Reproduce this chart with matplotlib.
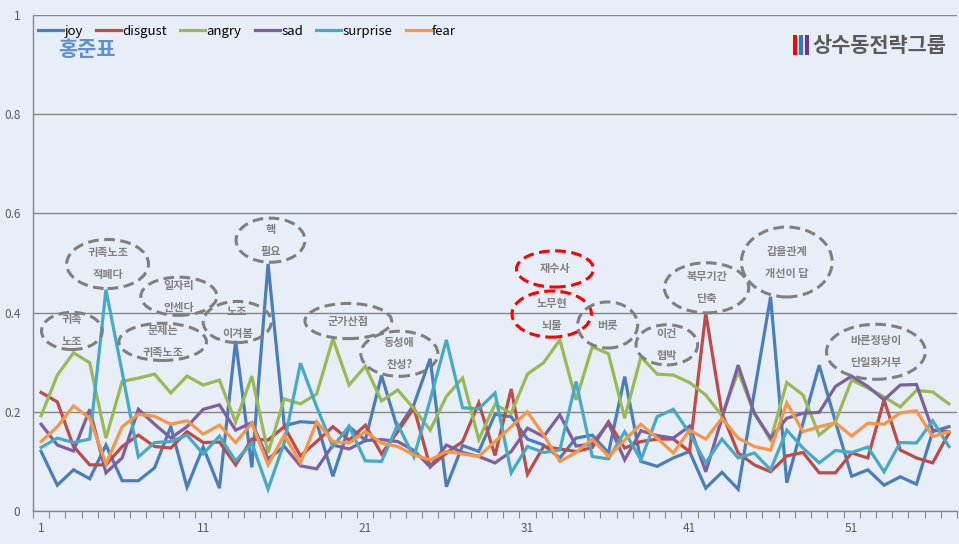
import matplotlib
matplotlib.use('Agg')
import matplotlib.pyplot as plt
from matplotlib.patches import Ellipse, Rectangle
import numpy as np

plt.rcParams['font.family'] = ['Noto Sans CJK KR', 'DejaVu Sans']

# values (57 points)
joy = [0.120, 0.052, 0.083, 0.065, 0.133, 0.061, 0.061, 0.087, 0.170, 0.048,
       0.129, 0.046, 0.343, 0.088, 0.498, 0.172, 0.180, 0.178, 0.070, 0.170,
       0.143, 0.273, 0.165, 0.215, 0.307, 0.049, 0.132, 0.120, 0.195, 0.190,
       0.145, 0.133, 0.107, 0.147, 0.153, 0.117, 0.271, 0.100, 0.090, 0.107,
       0.120, 0.046, 0.078, 0.044, 0.240, 0.432, 0.057, 0.177, 0.294, 0.180,
       0.070, 0.083, 0.052, 0.069, 0.054, 0.160, 0.170]
disgust = [0.239, 0.220, 0.130, 0.093, 0.093, 0.130, 0.153, 0.130, 0.127, 0.160,
           0.138, 0.139, 0.093, 0.145, 0.143, 0.170, 0.111, 0.140, 0.170, 0.143,
           0.173, 0.115, 0.160, 0.208, 0.089, 0.117, 0.140, 0.218, 0.112, 0.246,
           0.074, 0.130, 0.125, 0.120, 0.128, 0.180, 0.127, 0.140, 0.145, 0.145,
           0.120, 0.399, 0.197, 0.117, 0.093, 0.079, 0.111, 0.118, 0.077, 0.077,
           0.117, 0.107, 0.224, 0.123, 0.107, 0.097, 0.157]
angry = [0.192, 0.274, 0.319, 0.299, 0.147, 0.261, 0.268, 0.276, 0.238, 0.272,
         0.254, 0.264, 0.179, 0.272, 0.117, 0.226, 0.216, 0.236, 0.347, 0.254,
         0.292, 0.222, 0.244, 0.206, 0.163, 0.231, 0.268, 0.144, 0.215, 0.197,
         0.276, 0.299, 0.345, 0.224, 0.331, 0.317, 0.187, 0.311, 0.276, 0.274,
         0.259, 0.234, 0.192, 0.281, 0.197, 0.143, 0.259, 0.234, 0.153, 0.180,
         0.264, 0.248, 0.230, 0.210, 0.243, 0.240, 0.216]
sad = [0.175, 0.133, 0.121, 0.205, 0.077, 0.107, 0.205, 0.175, 0.147, 0.170,
       0.205, 0.214, 0.163, 0.178, 0.105, 0.130, 0.091, 0.085, 0.133, 0.125,
       0.142, 0.144, 0.140, 0.122, 0.089, 0.133, 0.118, 0.110, 0.097, 0.120,
       0.167, 0.150, 0.194, 0.131, 0.135, 0.177, 0.103, 0.162, 0.152, 0.147,
       0.171, 0.079, 0.187, 0.294, 0.197, 0.147, 0.187, 0.197, 0.199, 0.251,
       0.272, 0.251, 0.224, 0.254, 0.255, 0.163, 0.160]
surprise = [0.128, 0.147, 0.138, 0.145, 0.446, 0.280, 0.109, 0.138, 0.140, 0.153,
            0.115, 0.151, 0.101, 0.137, 0.044, 0.138, 0.298, 0.210, 0.130, 0.171,
            0.101, 0.100, 0.174, 0.109, 0.224, 0.345, 0.208, 0.206, 0.238, 0.077,
            0.130, 0.118, 0.123, 0.261, 0.110, 0.105, 0.160, 0.103, 0.190, 0.205,
            0.157, 0.097, 0.145, 0.107, 0.117, 0.083, 0.163, 0.127, 0.097, 0.122,
            0.118, 0.129, 0.079, 0.138, 0.137, 0.182, 0.130]
fear = [0.140, 0.170, 0.212, 0.187, 0.095, 0.170, 0.195, 0.191, 0.175, 0.182,
        0.155, 0.173, 0.138, 0.177, 0.093, 0.153, 0.097, 0.180, 0.140, 0.137,
        0.160, 0.137, 0.130, 0.113, 0.103, 0.120, 0.115, 0.110, 0.140, 0.170,
        0.200, 0.153, 0.100, 0.118, 0.145, 0.110, 0.143, 0.175, 0.147, 0.117,
        0.163, 0.145, 0.187, 0.147, 0.130, 0.123, 0.218, 0.160, 0.170, 0.178,
        0.151, 0.177, 0.175, 0.198, 0.202, 0.150, 0.160]

series_names = ['joy', 'disgust', 'angry', 'sad', 'surprise', 'fear']
series_colors = ['#4a7ebb', '#be4b48', '#98b954', '#7d60a0', '#46aac5', '#f79646']

# speech bubbles: (text, x center, y center, width, height, edge colour)
notes = [
    ('귀족\n노조', 2.9, 0.363, 3.75, 0.075, '#7f7f7f'),
    ('귀족노조\n적폐다', 5.1, 0.498, 5.05, 0.099, '#7f7f7f'),
    ('일자리\n안센다', 9.5, 0.433, 4.7, 0.077, '#7f7f7f'),
    ('문제는\n귀족노조', 8.5, 0.341, 5.4, 0.075, '#7f7f7f'),
    ('노조\n이겨봄', 13.1, 0.381, 4.2, 0.083, '#7f7f7f'),
    ('핵\n필요', 15.15, 0.546, 4.25, 0.089, '#7f7f7f'),
    ('군가산점', 19.95, 0.383, 5.35, 0.071, '#7f7f7f'),
    ('동성애\n찬성?', 23.1, 0.317, 4.75, 0.091, '#7f7f7f'),
    ('재수사', 32.7, 0.488, 4.75, 0.073, '#ff0000'),
    ('노무현\n뇌물', 32.5, 0.397, 4.9, 0.093, '#ff0000'),
    ('버릇', 35.95, 0.375, 3.7, 0.093, '#7f7f7f'),
    ('이건\n협박', 39.6, 0.335, 3.8, 0.081, '#7f7f7f'),
    ('복무기간\n단축', 42.05, 0.450, 5.2, 0.101, '#7f7f7f'),
    ('갑을관계\n개선이 답', 47.0, 0.502, 5.6, 0.141, '#7f7f7f'),
    ('바른정당이\n단일화거부', 52.5, 0.321, 6.1, 0.111, '#7f7f7f'),
]

bg = '#e8eef8'
fig = plt.figure(figsize=(9.59, 5.44), dpi=100, facecolor=bg)
ax = fig.add_axes([33 / 959, 1 - 511 / 544, 924 / 959, 496 / 544])
ax.set_facecolor(bg)

x = np.arange(1, len(joy) + 1)
for name, vals, col in zip(series_names, [joy, disgust, angry, sad, surprise, fear], series_colors):
    ax.plot(x, vals, color=col, lw=2.3, label=name, solid_joinstyle='miter')

ax.set_xlim(0.5, len(joy) + 0.5)
ax.set_ylim(0, 1)
ax.set_yticks([0, 0.2, 0.4, 0.6, 0.8, 1.0])
ax.set_yticklabels(['0', '0.2', '0.4', '0.6', '0.8', '1'])
ax.yaxis.grid(True, color='#868686', lw=1)
ax.set_axisbelow(True)
ax.tick_params(axis='y', length=0, pad=9, labelsize=8.5, labelcolor='#595959')

ax.set_xticks(np.arange(0.5, len(joy) + 1, 1.0))
ax.set_xticklabels([])
ax.set_xticks(np.arange(1, len(joy) + 1, 10), minor=True)
ax.set_xticklabels([str(v) for v in range(1, len(joy) + 1, 10)], minor=True)
ax.tick_params(axis='x', which='major', length=5, color='#868686', direction='out')
ax.tick_params(axis='x', which='minor', length=0, pad=8, labelsize=8.5, labelcolor='#595959')

for s in ['top', 'right']:
    ax.spines[s].set_visible(False)
for s in ['left', 'bottom']:
    ax.spines[s].set_color('#868686')
    ax.spines[s].set_linewidth(1)

for txt, cx, cy, w, h, ec in notes:
    ax.add_patch(Ellipse((cx, cy), w, h, facecolor='none', edgecolor=ec,
                         lw=2.2, linestyle=(0, (3.5, 1.8)), zorder=5))
    ax.text(cx, cy, txt, ha='center', va='center', fontsize=8, fontweight='bold',
            color='#7f7f7f', linespacing=1.9, zorder=6)

ax.legend(loc='upper left', bbox_to_anchor=(38 / 959, 1 - 25 / 544), bbox_transform=fig.transFigure,
          ncol=6, frameon=False, fontsize=9.5, handlelength=1.9, handletextpad=0.1,
          columnspacing=1.0, borderpad=0, borderaxespad=0)

fig.text(58 / 959, 1 - 49 / 544, '홍준표', fontsize=15, fontweight='heavy', color='#5b8fd6',
         ha='left', va='center')

# logo: three coloured bars and group name
for k, c in enumerate(['#ff0000', '#2e75d6', '#7030a0']):
    fig.add_artist(Rectangle(((793 + k * 6) / 959, 1 - 55 / 544), 4 / 959, 20 / 544,
                             transform=fig.transFigure, facecolor=c, edgecolor='none'))
fig.text(812 / 959, 1 - 45 / 544, '상수동전략그룹', fontsize=15, fontweight='bold', color='#595959',
         ha='left', va='center')

fig.savefig('out.png', dpi=100, facecolor=bg)
